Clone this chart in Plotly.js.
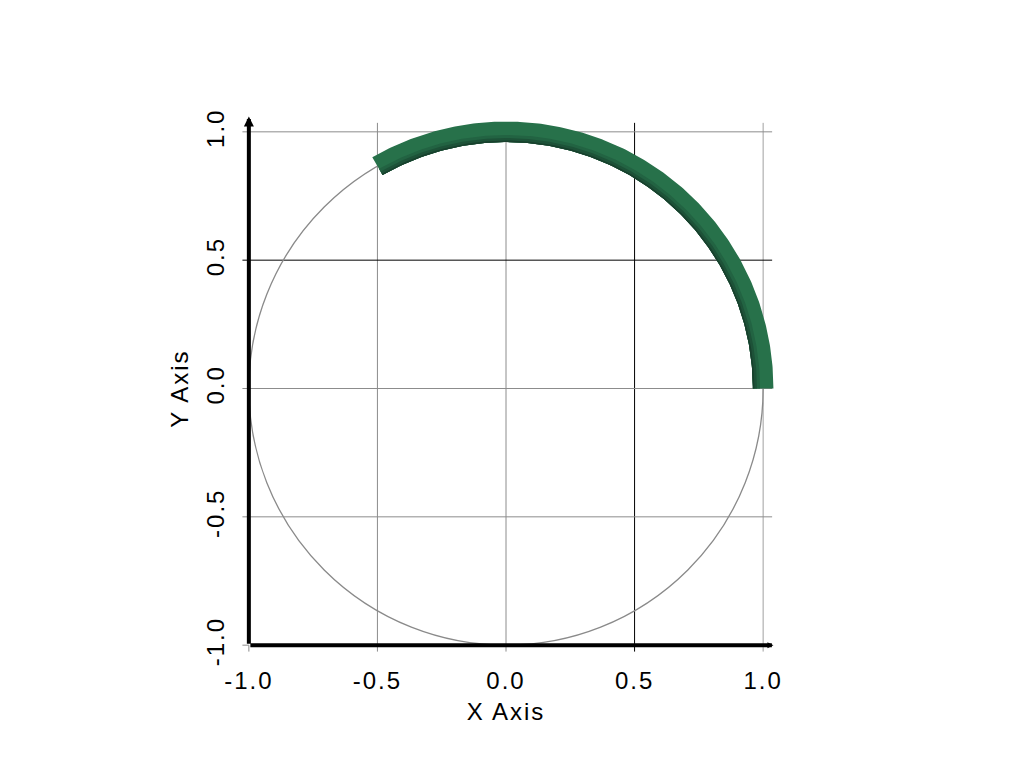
<!DOCTYPE html>
<html>
<head>
<meta charset="utf-8">
<script src="https://cdn.plot.ly/plotly-3.0.1.min.js"></script>
<style>
html,body{margin:0;padding:0;background:#fff;}
#chart{width:1024px;height:768px;}
#chart svg text{letter-spacing:2px;}
</style>
</head>
<body>
<div id="chart"></div>
<script>
// ---- data ----
var tickValues = [-1, -0.5, 0, 0.5, 1];
var tickLabels = ['-1.0', '-0.5', '0.0', '0.5', '1.0'];
var xGridValues = [-0.5, 0, 0.5, 1];
var xGridColors = ['#8c8c8c', '#8c8c8c', '#000000', '#a0a0a0'];
var yGridValues = [-0.5, 0, 0.5, 1];
var yGridColors = ['#8c8c8c', '#8c8c8c', '#000000', '#8c8c8c'];
var circleRadius = 1.0;
var arcStartDeg = 0;
var arcEndDeg = 120;
var arcRadius = 1.0;
var arcHalfWidth = 0.04;
var arcLayers = [ // [inner offset, outer offset] relative to arc centre, colour
  [-1.0, 1.0, '#27714a'],
  [-1.0, -0.3, '#226342'],
  [-1.0, -0.6, '#1d5238'],
  [-1.0, -0.85, '#18402d']
];

function bandPolygon(r0, r1, a0, a1) {
  var xs = [], ys = [];
  for (var a = a0; a <= a1 + 1e-9; a += 0.5) {
    var t = a * Math.PI / 180;
    xs.push(r1 * Math.cos(t)); ys.push(r1 * Math.sin(t));
  }
  for (var b = a1; b >= a0 - 1e-9; b -= 0.5) {
    var u = b * Math.PI / 180;
    xs.push(r0 * Math.cos(u)); ys.push(r0 * Math.sin(u));
  }
  xs.push(xs[0]); ys.push(ys[0]);
  return {x: xs, y: ys};
}

var traces = arcLayers.map(function (L) {
  var p = bandPolygon(arcRadius + L[0] * arcHalfWidth, arcRadius + L[1] * arcHalfWidth, arcStartDeg, arcEndDeg);
  return {
    x: p.x, y: p.y, type: 'scatter', mode: 'lines', fill: 'toself',
    fillcolor: L[2], line: {width: 0, color: L[2]}, hoverinfo: 'skip', showlegend: false
  };
});

var shapes = [];
xGridValues.forEach(function (v, i) {
  shapes.push({type: 'line', xref: 'x', yref: 'y', x0: v, x1: v, y0: -1.025, y1: 1.035,
    line: {color: xGridColors[i], width: 1}, layer: 'below'});
});
yGridValues.forEach(function (v, i) {
  shapes.push({type: 'line', xref: 'x', yref: 'y', y0: v, y1: v, x0: -1.025, x1: 1.035,
    line: {color: yGridColors[i], width: 1}, layer: 'below'});
});
shapes.push({type: 'line', xref: 'x', yref: 'y', x0: -1, x1: -1, y0: -1.025, y1: -1,
  line: {color: '#8c8c8c', width: 1}, layer: 'below'});
shapes.push({type: 'line', xref: 'x', yref: 'y', x0: -1.025, x1: -1, y0: -1, y1: -1,
  line: {color: '#8c8c8c', width: 1}, layer: 'below'});
shapes.push({type: 'circle', xref: 'x', yref: 'y', x0: -circleRadius, x1: circleRadius,
  y0: -circleRadius, y1: circleRadius, line: {color: '#8a8a8a', width: 1.3}, layer: 'below'});

var annotations = [
  {x: -1, y: 1.06, ax: -1, ay: -1, xref: 'x', yref: 'y', axref: 'x', ayref: 'y', text: '',
   showarrow: true, arrowhead: 2, arrowsize: 0.5, arrowwidth: 4, arrowcolor: '#000'},
  {x: 1.04, y: -1, ax: -1, ay: -1, xref: 'x', yref: 'y', axref: 'x', ayref: 'y', text: '',
   showarrow: true, arrowhead: 2, arrowsize: 0.3, arrowwidth: 4, arrowcolor: '#000'}
];

var font = {family: '"Liberation Sans", Arial, sans-serif', size: 24, color: '#000'};

var layout = {
  width: 1024, height: 768,
  margin: {l: 236, r: 248, t: 119, b: 110},
  paper_bgcolor: '#fff', plot_bgcolor: '#fff',
  showlegend: false,
  font: font,
  xaxis: {range: [-1.05, 1.05], tickvals: tickValues, ticktext: tickLabels,
    showgrid: false, zeroline: false, showline: false, ticks: '', ticklabelstandoff: 6,
    tickfont: font, title: {text: 'X Axis', font: font, standoff: 10}, fixedrange: true},
  yaxis: {range: [-1.05, 1.05], tickvals: tickValues, ticktext: tickLabels,
    showgrid: false, zeroline: false, showline: false, ticks: '', tickangle: -90, ticklabelstandoff: 6,
    tickfont: font, title: {text: 'Y Axis', font: font, standoff: 6}, fixedrange: true},
  shapes: shapes,
  annotations: annotations
};

Plotly.newPlot('chart', traces, layout, {displayModeBar: false, staticPlot: true});
</script>
</body>
</html>
